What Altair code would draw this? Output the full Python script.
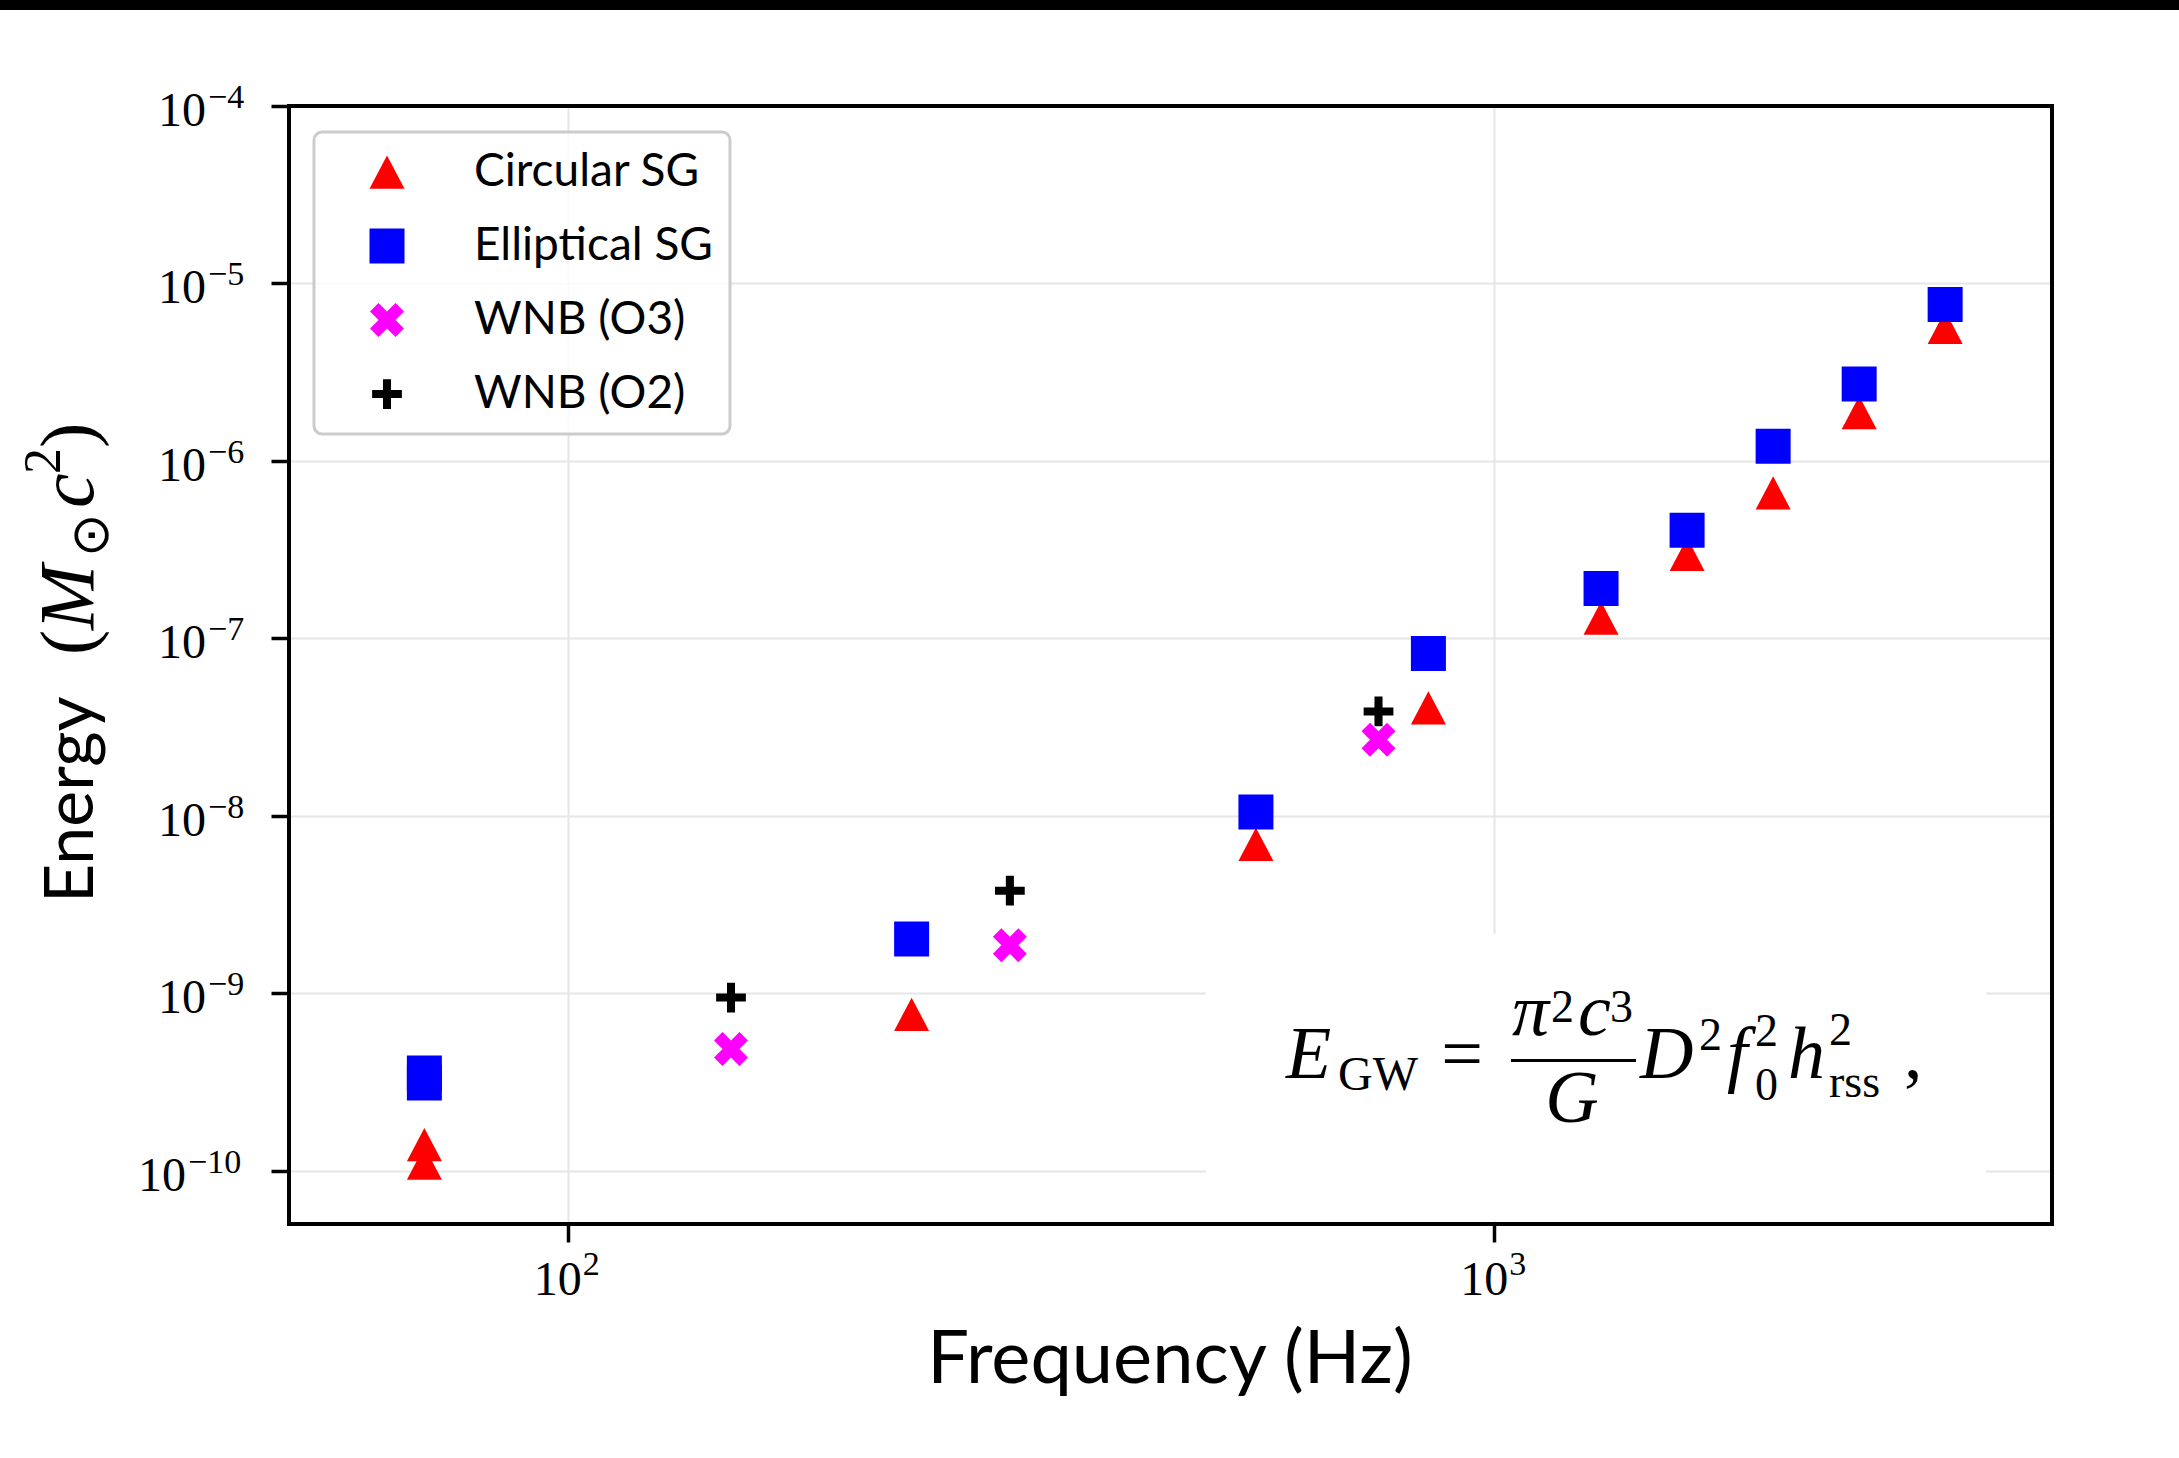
import math

import altair as alt
import pandas as pd

# ---------------------------------------------------------------------------
# Data: search sensitivity expressed as radiated energy vs. central frequency
# ---------------------------------------------------------------------------
series_names = ["Circular SG", "Elliptical SG", "WNB (O3)", "WNB (O2)"]
series_colors = ["#ff0000", "#0000ff", "#ff00ff", "#000000"]

sg_freq = [70, 70, 235, 553, 849, 1304, 1615, 2000, 2477, 3067]
circular_energy = [1.40e-10, 1.10e-10, 7.6e-10, 6.9e-9, 4.06e-8,
                   1.30e-7, 2.97e-7, 6.6e-7, 1.87e-6, 5.65e-6]
elliptical_energy = [3.55e-10, 3.12e-10, 2.02e-9, 1.05e-8, 8.2e-8,
                     1.91e-7, 4.07e-7, 1.21e-6, 2.71e-6, 7.6e-6]

wnb_freq = [150, 300, 750]
wnb_o3_energy = [4.84e-10, 1.86e-9, 2.68e-8]
wnb_o2_energy = [9.44e-10, 3.78e-9, 3.87e-8]

x_ticks = [100, 1000]
y_ticks = [1e-10, 1e-9, 1e-8, 1e-7, 1e-6, 1e-5, 1e-4]
x_domain = [50, 4000]
y_domain = [5e-11, 1e-4]

rows = []
for name, freqs, energies in [
    (series_names[0], sg_freq, circular_energy),
    (series_names[1], sg_freq, elliptical_energy),
    (series_names[2], wnb_freq, wnb_o3_energy),
    (series_names[3], wnb_freq, wnb_o2_energy),
]:
    for f, e in zip(freqs, energies):
        rows.append({"series": name, "frequency": f, "energy": e, "draw": len(rows)})
points_df = pd.DataFrame(rows)

# ---------------------------------------------------------------------------
# Marker shapes (unit-box SVG paths)
# ---------------------------------------------------------------------------
def polygon_path(pts):
    return "M" + "L".join(f"{x:.3f},{y:.3f}" for x, y in pts) + "Z"


def plus_points(w, scale, rotate=False):
    pts = [(w, w), (w, 1), (-w, 1), (-w, w), (-1, w), (-1, -w),
           (-w, -w), (-w, -1), (w, -1), (w, -w), (1, -w), (1, w)]
    if rotate:
        c = 1 / math.sqrt(2)
        pts = [((x - y) * c, (x + y) * c) for x, y in pts]
        ext = max(max(abs(x), abs(y)) for x, y in pts)
        pts = [(x / ext, y / ext) for x, y in pts]
    return [(x * scale, y * scale) for x, y in pts]


triangle_path = "M0,-0.95L-1,0.95L1,0.95Z"
square_path = "M-1,-1L1,-1L1,1L-1,1Z"
thick_x_path = polygon_path(plus_points(1 / 3, 0.97, rotate=True))
thin_plus_path = polygon_path(plus_points(0.27, 0.85))
series_shapes = [triangle_path, square_path, thick_x_path, thin_plus_path]

# ---------------------------------------------------------------------------
# Layout (pixels)
# ---------------------------------------------------------------------------
PAGE_W, PAGE_H = 2179, 1458
OX, OY = 289, 106          # plot-area origin on the page
W, H = 1763, 1118          # plot-area size


def px(x):
    return x - OX


def py(y):
    return y - OY


one = pd.DataFrame({"k": [0]})


def text(t, x, y, size, font="Liberation Serif", style="normal",
         align="left", angle=0):
    kw = dict(text=t, font=font, fontSize=size, align=align,
              baseline="alphabetic", color="black")
    if style != "normal":
        kw["fontStyle"] = style
    if angle:
        kw["angle"] = angle
    return alt.Chart(one).mark_text(**kw).encode(
        x=alt.value(px(x)), y=alt.value(py(y)))


def box(x1, y1, x2, y2, **style):
    return alt.Chart(one).mark_rect(**style).encode(
        x=alt.value(px(x1)), x2=alt.value(px(x2)),
        y=alt.value(py(y1)), y2=alt.value(py(y2)))


x_scale = alt.Scale(type="log", domain=x_domain, nice=False)
y_scale = alt.Scale(type="log", domain=y_domain, nice=False)

axis_common = dict(
    title=None, grid=True, gridColor="#e6e6e6", gridWidth=2,
    domain=False, ticks=True, tickSize=18, tickWidth=3.5, tickColor="black",
    labels=False,
)
x_axis = alt.Axis(values=x_ticks, **axis_common)
y_axis = alt.Axis(values=y_ticks, **axis_common)

# ---------------------------------------------------------------------------
# Scatter layer with legend
# ---------------------------------------------------------------------------
legend = alt.Legend(
    title=None, orient="none", legendX=25, legendY=26, direction="vertical",
    labelFont="Lato", labelFontSize=46, labelColor="black", labelLimit=600,
    symbolSize=1225, symbolStrokeWidth=0, symbolOpacity=1,
    symbolOffset=33, labelOffset=64, rowPadding=28, padding=17,
    fillColor="rgba(255,255,255,0.8)", strokeColor="#cccccc",
    cornerRadius=8,
)

points = alt.Chart(points_df).mark_point(
    filled=True, size=1225, opacity=1, strokeWidth=0
).encode(
    x=alt.X("frequency:Q", scale=x_scale, axis=x_axis),
    y=alt.Y("energy:Q", scale=y_scale, axis=y_axis),
    color=alt.Color("series:N",
                    scale=alt.Scale(domain=series_names, range=series_colors),
                    legend=legend),
    shape=alt.Shape("series:N",
                    scale=alt.Scale(domain=series_names, range=series_shapes),
                    legend=legend),
    order=alt.Order("draw:Q"),
)

# ---------------------------------------------------------------------------
# Tick labels as powers of ten: "10" plus a raised exponent
# ---------------------------------------------------------------------------
BASE_SIZE, EXP_SIZE = 48, 34
EXP_EXPR = "format(round(log(datum.value)/LN10), 'd')"

x_lab_df = pd.DataFrame({"value": x_ticks})
y_lab_df = pd.DataFrame({"value": y_ticks})

x_base = alt.Chart(x_lab_df).mark_text(
    text="10", font="Liberation Serif", fontSize=BASE_SIZE, align="right",
    baseline="alphabetic", dx=14, color="black",
).encode(x=alt.X("value:Q", scale=x_scale, axis=x_axis), y=alt.value(py(1295)))

x_exp = alt.Chart(x_lab_df).transform_calculate(exp=EXP_EXPR).mark_text(
    font="Liberation Serif", fontSize=EXP_SIZE, align="left",
    baseline="alphabetic", dx=15, color="black",
).encode(x=alt.X("value:Q", scale=x_scale, axis=x_axis), y=alt.value(py(1275)),
         text="exp:N")

# the "10" of each y label shifts left by the width of its exponent
y_base = alt.Chart(y_lab_df).transform_calculate(
    xb=f"{px(206)} - 20 * (length({EXP_EXPR}) - 2)",
).mark_text(
    text="10", font="Liberation Serif", fontSize=BASE_SIZE, align="right",
    baseline="alphabetic", dy=20, color="black",
).encode(x=alt.X("xb:Q", scale=None),
         y=alt.Y("value:Q", scale=y_scale, axis=y_axis))

y_exp = alt.Chart(y_lab_df).transform_calculate(
    exp=EXP_EXPR,
    xe=f"{px(208)} - 20 * (length({EXP_EXPR}) - 2)",
).mark_text(
    font="Liberation Serif", fontSize=EXP_SIZE, align="left",
    baseline="alphabetic", dy=2, color="black",
).encode(x=alt.X("xe:Q", scale=None),
         y=alt.Y("value:Q", scale=y_scale, axis=y_axis),
         text="exp:N")

# ---------------------------------------------------------------------------
# Energy formula in a white box (lower right)
# ---------------------------------------------------------------------------
formula_bg = box(1206, 934, 1986, 1221, color="white")

MATH = 74      # main math size
SCRIPT = 46    # sub/superscript size

formula = [
    text("E", 1286, 1078, MATH, style="italic"),
    text("GW", 1338, 1090, SCRIPT + 2),
    text("=", 1462, 1078, MATH, align="center"),
    text("π", 1512, 1035, MATH, style="italic"),
    text("2", 1551, 1022, SCRIPT),
    text("c", 1578, 1035, MATH, style="italic"),
    text("3", 1610, 1022, SCRIPT),
    box(1511, 1059, 1636, 1062, color="black"),
    text("G", 1572, 1122, MATH, style="italic", align="center"),
    text("D", 1640, 1078, MATH, style="italic"),
    text("2", 1699, 1050, SCRIPT),
    text("f", 1727, 1078, MATH, style="italic"),
    text("2", 1755, 1046, SCRIPT),
    text("0", 1755, 1100, SCRIPT),
    text("h", 1788, 1078, MATH, style="italic"),
    text("2", 1829, 1045, SCRIPT),
    text("rss", 1829, 1097, SCRIPT),
    text(",", 1904, 1078, MATH),
]

# ---------------------------------------------------------------------------
# Axis titles
# ---------------------------------------------------------------------------
x_title = text("Frequency (Hz)", 1170, 1383, 74, font="Lato", align="center")

y_title = [
    text("Energy", 93, 903, 68, font="Lato", angle=270),
    text("(", 93, 655, 76, angle=270),
    text("M", 93, 630, 78, style="italic", angle=270),
    text("⊙", 108, 557, 52, font="DejaVu Sans", angle=270),
    text("c", 93, 508, 78, style="italic", angle=270),
    text("2", 60, 474, 52, angle=270),
    text(")", 93, 448, 76, angle=270),
]

# Plot frame and the dark strip along the top edge of the page
frame = box(OX, OY, OX + W, OY + H, fillOpacity=0, stroke="black",
            strokeWidth=4)
top_strip = box(0, 0, PAGE_W, 10, color="black")

chart = alt.layer(
    formula_bg, points, x_base, x_exp, y_base, y_exp, *formula,
    x_title, *y_title, frame, top_strip
).properties(
    width=W, height=H,
    padding={"left": OX, "top": OY, "right": PAGE_W - OX - W,
             "bottom": PAGE_H - OY - H},
    autosize=alt.AutoSizeParams(type="none"),
).configure_view(
    stroke="transparent"
).configure_legend(
    strokeWidth=3
)

chart.save("out.html", embed_options={"renderer": "svg", "actions": False})
